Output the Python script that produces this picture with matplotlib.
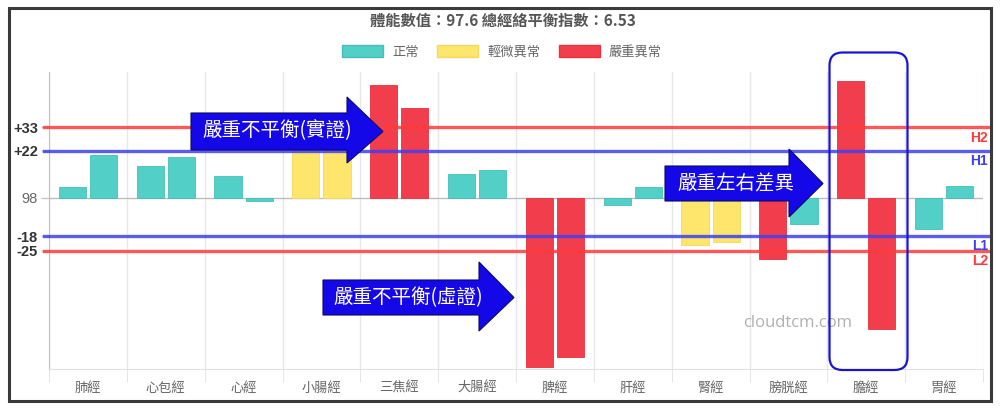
import numpy as np
import matplotlib.pyplot as plt
import matplotlib.transforms as mtransforms
from matplotlib.patches import Polygon, FancyBboxPatch, Rectangle, Patch
from matplotlib.lines import Line2D

plt.rcParams['font.family'] = ['Noto Sans CJK TC', 'DejaVu Sans']

# data (deviation from baseline 98)
meridians = ['肺經', '心包經', '心經', '小腸經', '三焦經', '大腸經',
             '脾經', '肝經', '腎經', '膀胱經', '膽經', '胃經']
left_vals = [5, 15, 10, 28, 53, 11, -79.5, -3.5, -22, -29, 55, -14.5]
right_vals = [20, 19, -1.5, 27, 42, 13, -75, 5, -21, -12.5, -61.5, 5.5]
# 0 = 正常, 1 = 輕微異常, 2 = 嚴重異常
left_status = [0, 0, 0, 1, 2, 0, 2, 0, 1, 2, 2, 0]
right_status = [0, 0, 0, 1, 2, 0, 2, 0, 1, 0, 2, 0]
status_names = ['正常', '輕微異常', '嚴重異常']
status_colors = ['#52cfc6', '#fee66c', '#f23e4c']
status_edges = ['#45c0b7', '#f3d860', '#e8323f']

ref_vals = [33, 22, -18, -25]
ref_ticklabels = ['+33', '+22', '-18', '-25']
ref_names = ['H2', 'H1', 'L1', 'L2']
ref_colors = ['#ff3b3b', '#3f3fee', '#3f3fee', '#ff3b3b']

title = '體能數值：97.6 總經絡平衡指數：6.53'

W, H = 1000, 413
fig = plt.figure(figsize=(W / 100, H / 100), dpi=100)
# transform: pixel coords with origin at top-left
px = (mtransforms.Affine2D().scale(1, -1).translate(0, H)
      + mtransforms.Affine2D().scale(1 / 100) + fig.dpi_scale_trans)

ax = fig.add_axes([49 / W, 1 - 369 / H, (983 - 49) / W, (369 - 72) / H])

x = np.arange(len(meridians))
off, bw = 0.2, 0.35
ax.bar(x - off, left_vals, bw, color=[status_colors[s] for s in left_status],
       edgecolor=[status_edges[s] for s in left_status], lw=0.6, zorder=3)
ax.bar(x + off, right_vals, bw, color=[status_colors[s] for s in right_status],
       edgecolor=[status_edges[s] for s in right_status], lw=0.6, zorder=3)

ax.set_xlim(-0.5, len(meridians) - 0.5)
ax.set_ylim(-80.4, 59)

# baseline
ax.axhline(0, color='#bdbdbd', lw=1, zorder=2)

# reference lines (extend slightly past the axes)
bt = mtransforms.blended_transform_factory(ax.transAxes, ax.transData)
for v, c, name in zip(ref_vals, ref_colors, ref_names):
    ax.add_line(Line2D([-5 / 934, 1 + 7 / 934], [v, v], transform=bt, color=c,
                       lw=2.4, alpha=0.85, zorder=4, clip_on=False))
    ax.text(1 + 5 / 934, v - 1.5, name, transform=bt, ha='right', va='top',
            color=c, fontsize=10, fontweight='bold', family='Liberation Sans',
            zorder=5, clip_on=False)

# y ticks
ax.set_yticks([ref_vals[0], ref_vals[1], 0, ref_vals[2], ref_vals[3]])
ax.set_yticklabels([ref_ticklabels[0], ref_ticklabels[1], '98',
                    ref_ticklabels[2], ref_ticklabels[3]])
for lab in ax.get_yticklabels():
    if lab.get_text() == '98':
        lab.set_color('#666666')
        lab.set_fontweight('normal')
    else:
        lab.set_color('#333333')
        lab.set_fontweight('bold')
    lab.set_family('Liberation Sans')
    lab.set_fontsize(10.5)
ax.tick_params(axis='y', length=6, width=1, color='#c8c8c8', pad=2)

# x ticks: labels at centers, marks on boundaries
ax.set_xticks(x)
ax.set_xticklabels(meridians, fontsize=9.5, color='#666666')
ax.set_xticks(np.arange(len(meridians) + 1) - 0.5, minor=True)
ax.tick_params(axis='x', which='major', length=0, pad=9)
ax.tick_params(axis='x', which='minor', length=9, color='#e2e2e2')
ax.grid(axis='x', which='minor', color='#e8e8e8', lw=1, zorder=0)

for s in ['top', 'right']:
    ax.spines[s].set_visible(False)
ax.spines['left'].set_color('#c0c0c0')
ax.spines['bottom'].set_color('#e2e2e2')

# title and legend
fig.text(503 / W, 1 - 21 / H, title, ha='center', va='center',
         fontsize=11, fontweight='bold', color='#555555')
handles = [Patch(facecolor=c, edgecolor=e, lw=1) for c, e in zip(status_colors, status_edges)]
fig.legend(handles, status_names, loc='center', bbox_to_anchor=(0.502, 1 - 52 / H),
           ncol=3, frameon=False, fontsize=9.5, labelcolor='#666666',
           handlelength=3.1, handleheight=1.0, handletextpad=0.7, columnspacing=1.4)

# watermark
fig.text(798 / W, 1 - 323 / H, 'cloudtcm.com', ha='center', va='center',
         fontsize=12, color='#b0b0b0', family='Open Sans')

# block arrows
def block_arrow(L, T, B, X, HT, HB, TX, label, tx, ty):
    TY = (T + B) / 2
    pts = [(L, T), (X, T), (X, HT), (TX, TY), (X, HB), (X, B), (L, B)]
    fig.patches.append(Polygon(pts, closed=True, transform=px, facecolor='#1508e8',
                               edgecolor='#0a0a60', lw=0.8, zorder=10))
    fig.text(tx, ty, label, transform=px, ha='left', va='center', color='white',
             fontsize=14, zorder=11)

block_arrow(191, 113, 150, 347, 97, 163, 383, '嚴重不平衡(實證)', 202, 131)
block_arrow(323, 280, 315, 479, 262, 331, 514, '嚴重不平衡(虛證)', 333, 297.5)
block_arrow(665, 166, 201, 789, 149, 217, 823, '嚴重左右差異', 677, 184)

# rounded highlight box
fig.patches.append(FancyBboxPatch((829.5, 52.5), 78, 317.5, transform=px,
                                  boxstyle='round,pad=0,rounding_size=13',
                                  facecolor='none', edgecolor='#1a14d0', lw=1.6, zorder=9))

# outer frame
fig.patches.append(Rectangle((9, 8), 982, 393, transform=px, facecolor='none',
                             edgecolor='#3a3a3a', lw=2.2, zorder=12))

fig.savefig('out.png', dpi=100)
